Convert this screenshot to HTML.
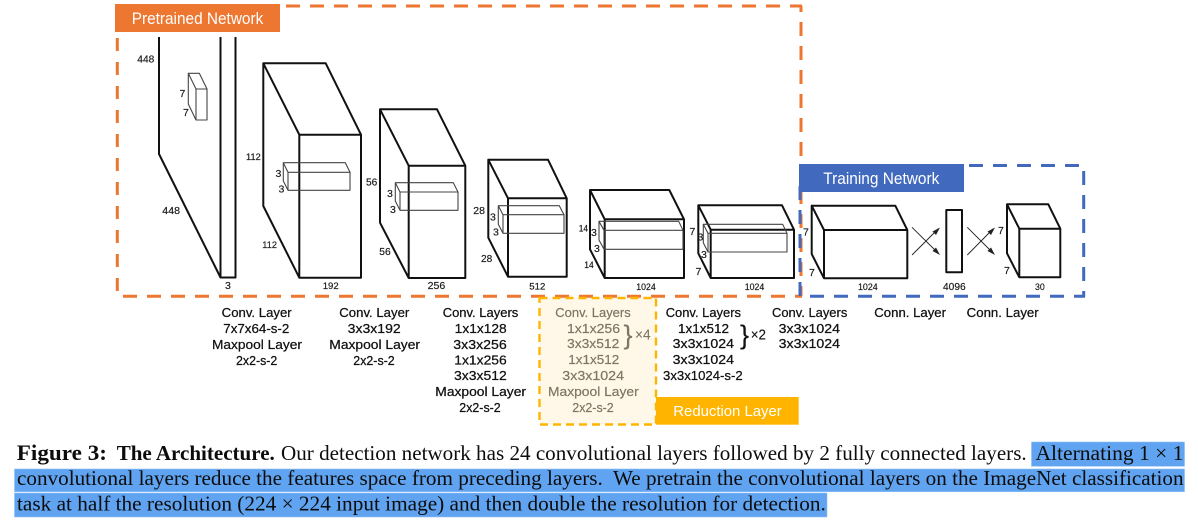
<!DOCTYPE html>
<html><head><meta charset="utf-8"><style>
html,body{margin:0;padding:0;background:#fff;width:1198px;height:524px;overflow:hidden}
svg{display:block;filter:blur(0.3px)}
.b{fill:none;stroke:#111;stroke-width:2;stroke-linejoin:round}
.i{fill:none;stroke:#444;stroke-width:1.1;stroke-linejoin:round}
.d{font:10.5px "Liberation Sans",sans-serif;fill:#1c1c1c;stroke:#1c1c1c;stroke-width:.2}
.s{font-size:9.6px}
.l{font:13px "Liberation Sans",sans-serif;fill:#111;stroke:#111;stroke-width:.25}
.y{font:13px "Liberation Sans",sans-serif;fill:#7d7663;stroke:#7d7663;stroke-width:.2}
.c{font:21.6px "Liberation Serif",serif;fill:#0c0c0c}
.cb{font:bold 21.6px "Liberation Serif",serif;fill:#0c0c0c}
</style></head><body>
<svg width="1198" height="524" viewBox="0 0 1198 524" xmlns="http://www.w3.org/2000/svg">
<rect width="1198" height="524" fill="#fff"/>
<!-- orange frame -->
<g fill="none" stroke="#ED7630" stroke-width="3">
<path d="M286,6H802" stroke-dasharray="14 10"/>
<path d="M117.3,38V292" stroke-dasharray="13 11"/>
<path d="M123,296.3H802" stroke-dasharray="14 10"/>
<path d="M801,6V296" stroke-dasharray="14 10" stroke-dashoffset="8"/>
</g>
<rect x="115" y="4" width="165" height="28" fill="#ED7630"/>
<text x="131.7" y="24" font-family="Liberation Sans" font-size="16.5" fill="#fff" textLength="131.6" lengthAdjust="spacingAndGlyphs">Pretrained Network</text>
<!-- blue frame -->
<g fill="none" stroke="#4169BE" stroke-width="3">
<path d="M969,165.5H1084" stroke-dasharray="14 10"/>
<path d="M1083.7,171V297" stroke-dasharray="14 10"/>
<path d="M810,296.3H1085" stroke-dasharray="14 10"/>
<path d="M800,186V296" stroke-dasharray="14 10"/>
</g>
<rect x="799" y="164" width="165" height="28" fill="#4169BE"/>
<text x="823.3" y="184" font-family="Liberation Sans" font-size="16.5" fill="#fff" textLength="116" lengthAdjust="spacingAndGlyphs">Training Network</text>
<!-- blocks -->
<path class="b" d="M159,37V154L220.5,277.5H235.5V37M220.5,37V277.5"/>
<path class="i" d="M188.3,73.3H199.3L207,89V120H196V89L188.3,73.3V104L196,120M196,89H207"/>
<path class="b" d="M263.3,63.3H325.7L361,134.7V277.7H299.3V134.7H361M299.3,134.7L263.3,63.3V206L299.3,277.7"/>
<path class="i" d="M283.3,162.7H345.3L350,172.3V190.3H288V172.3H350M288,172.3L283.3,162.7V181L288,190.3"/>
<path class="b" d="M380,109.3H437L465.3,165.7V278H408.7V165.7H465.3M408.7,165.7L380,109.3V222.7L408.7,278"/>
<path class="i" d="M395.3,182.7H453.3L458,192V210.3H400V192H458M400,192L395.3,182.7V201L400,210.3"/>
<path class="b" d="M488.3,159.7H548L566.7,198.3V276.7H508V198.3H566.7M508,198.3L488.3,159.7V237.7L508,276.7"/>
<path class="i" d="M498.3,205.7H559.3L564,214.7V233.3H503V214.7H564M503,214.7L498.3,205.7V224.3L503,233.3"/>
<path class="b" d="M590,190H669.3L684,219.3V278H604.7V219.3H684M604.7,219.3L590,190V249.3L604.7,278"/>
<path class="i" d="M599,221.3H678.7L683,230.3V249.3H604V230.3H683M604,230.3L599,221.3V240L604,249.3"/>
<path class="b" d="M698.3,205.3H782L794,229.7V278H710.7V229.7H794M710.7,229.7L698.3,205.3V253.3L710.7,278"/>
<path class="i" d="M703.3,224.3H782.7L787,233.3V252H708V233.3H787M708,233.3L703.3,224.3V242.7L708,252"/>
<path class="b" d="M811.7,205.7H895.3L907.3,230V278.3H824V230H907.3M824,230L811.7,205.7V254L824,278.3"/>
<rect class="b" x="946.3" y="210" width="15.7" height="62.3"/>
<path class="b" d="M1007,204.3H1048.3L1060.3,228.7V277.3H1019.3V228.7H1060.3M1019.3,228.7L1007,204.3V253.3L1019.3,277.3"/>
<!-- arrows -->
<g stroke="#222" stroke-width="0.9" fill="none">
<path d="M912,255L938,229M912,227.3L938,253M967.3,255L993,229M967.3,227.3L993,253"/>
</g>
<g fill="#222">
<polygon points="940,227.5 936,235 932.5,231.5"/>
<polygon points="940,255 932.5,251 936,247.5"/>
<polygon points="995,227.5 991,235 987.5,231.5"/>
<polygon points="995,255 987.5,251 991,247.5"/>
</g>
<!-- dimension labels -->
<g class="d">
<text x="137.3" y="62.5" textLength="17" lengthAdjust="spacingAndGlyphs">448</text>
<text x="179.5" y="97">7</text><text x="183" y="116">7</text>
<text x="162.3" y="214" textLength="17.7" lengthAdjust="spacingAndGlyphs">448</text>
<text x="225" y="289">3</text>
<text class="s" x="246" y="160" textLength="14.7" lengthAdjust="spacingAndGlyphs">112</text>
<text class="s" x="262.3" y="248" textLength="14.7" lengthAdjust="spacingAndGlyphs">112</text>
<text x="275.5" y="177">3</text><text x="278.5" y="192.5">3</text>
<text class="s" x="322.7" y="289" textLength="16" lengthAdjust="spacingAndGlyphs">192</text>
<text x="366" y="185.5" textLength="11.3" lengthAdjust="spacingAndGlyphs">56</text>
<text x="379.3" y="255" textLength="11.4" lengthAdjust="spacingAndGlyphs">56</text>
<text x="387" y="197">3</text><text x="390" y="213">3</text>
<text x="427.7" y="289" textLength="17.6" lengthAdjust="spacingAndGlyphs">256</text>
<text x="473.3" y="214" textLength="11.7" lengthAdjust="spacingAndGlyphs">28</text>
<text x="481" y="262" textLength="11.3" lengthAdjust="spacingAndGlyphs">28</text>
<text x="490" y="220.5">3</text><text x="493" y="235.5">3</text>
<text class="s" x="529.3" y="289.5" textLength="16" lengthAdjust="spacingAndGlyphs">512</text>
<text class="s" x="578.7" y="231.5" textLength="9.3" lengthAdjust="spacingAndGlyphs">14</text>
<text class="s" x="584.3" y="268" textLength="9.4" lengthAdjust="spacingAndGlyphs">14</text>
<text x="591" y="236">3</text><text x="594" y="252">3</text>
<text class="s" x="636.3" y="290" textLength="19.4" lengthAdjust="spacingAndGlyphs">1024</text>
<text x="689.5" y="235">7</text><text x="697.5" y="240.5">3</text>
<text x="701" y="258">3</text><text x="695.5" y="275">7</text>
<text class="s" x="744.7" y="290" textLength="19.6" lengthAdjust="spacingAndGlyphs">1024</text>
<text x="803" y="235.5">7</text><text x="809" y="276">7</text>
<text class="s" x="858" y="290" textLength="19.7" lengthAdjust="spacingAndGlyphs">1024</text>
<text x="943" y="290" textLength="22.7" lengthAdjust="spacingAndGlyphs">4096</text>
<text class="s" x="1035" y="290" textLength="9.7" lengthAdjust="spacingAndGlyphs">30</text>
<text x="998" y="234">7</text><text x="1004" y="274">7</text>
</g>
<!-- column labels -->
<g class="l">
<text x="221.7" y="317" textLength="70" lengthAdjust="spacingAndGlyphs">Conv. Layer</text>
<text x="223.3" y="333" textLength="66" lengthAdjust="spacingAndGlyphs">7x7x64-s-2</text>
<text x="212" y="349" textLength="90" lengthAdjust="spacingAndGlyphs">Maxpool Layer</text>
<text x="236" y="365" textLength="41.3" lengthAdjust="spacingAndGlyphs">2x2-s-2</text>
<text x="339.3" y="317" textLength="70" lengthAdjust="spacingAndGlyphs">Conv. Layer</text>
<text x="347.7" y="333" textLength="53" lengthAdjust="spacingAndGlyphs">3x3x192</text>
<text x="329.3" y="349" textLength="90.7" lengthAdjust="spacingAndGlyphs">Maxpool Layer</text>
<text x="353.3" y="365" textLength="41.4" lengthAdjust="spacingAndGlyphs">2x2-s-2</text>
<text x="442.7" y="317" textLength="75.6" lengthAdjust="spacingAndGlyphs">Conv. Layers</text>
<text x="454.7" y="333" textLength="52" lengthAdjust="spacingAndGlyphs">1x1x128</text>
<text x="453.3" y="349" textLength="53.4" lengthAdjust="spacingAndGlyphs">3x3x256</text>
<text x="454.3" y="364.5" textLength="52.4" lengthAdjust="spacingAndGlyphs">1x1x256</text>
<text x="454" y="380" textLength="52.7" lengthAdjust="spacingAndGlyphs">3x3x512</text>
<text x="435.3" y="396" textLength="90.7" lengthAdjust="spacingAndGlyphs">Maxpool Layer</text>
<text x="459.3" y="412" textLength="41.4" lengthAdjust="spacingAndGlyphs">2x2-s-2</text>
<text x="665.7" y="317" textLength="75.3" lengthAdjust="spacingAndGlyphs">Conv. Layers</text>
<text x="678" y="333" textLength="51" lengthAdjust="spacingAndGlyphs">1x1x512</text>
<text x="672.7" y="348" textLength="61.3" lengthAdjust="spacingAndGlyphs">3x3x1024</text>
<text x="672.7" y="364" textLength="61.3" lengthAdjust="spacingAndGlyphs">3x3x1024</text>
<text x="663" y="380" textLength="79.7" lengthAdjust="spacingAndGlyphs">3x3x1024-s-2</text>
<text x="772" y="317" textLength="75.3" lengthAdjust="spacingAndGlyphs">Conv. Layers</text>
<text x="778.7" y="333" textLength="61.3" lengthAdjust="spacingAndGlyphs">3x3x1024</text>
<text x="778.7" y="348" textLength="61.3" lengthAdjust="spacingAndGlyphs">3x3x1024</text>
<text x="874.3" y="317" textLength="71.7" lengthAdjust="spacingAndGlyphs">Conn. Layer</text>
<text x="966.7" y="317" textLength="72" lengthAdjust="spacingAndGlyphs">Conn. Layer</text>
<text x="740" y="344" style="font-size:27px;stroke-width:.1">}</text>
<text x="750.7" y="339.5" style="font-size:15px;stroke-width:.1" textLength="15.3" lengthAdjust="spacingAndGlyphs">×2</text>
</g>
<!-- reduction box -->
<rect x="539.5" y="298" width="116.5" height="126.5" fill="#FFF8E9" stroke="#FFB500" stroke-width="2.4" stroke-dasharray="8 5"/>
<g class="y">
<text x="555.3" y="317" textLength="75.4" lengthAdjust="spacingAndGlyphs">Conv. Layers</text>
<text x="567" y="333" textLength="53" lengthAdjust="spacingAndGlyphs">1x1x256</text>
<text x="567" y="348" textLength="52.3" lengthAdjust="spacingAndGlyphs">3x3x512</text>
<text x="568.3" y="364" textLength="51" lengthAdjust="spacingAndGlyphs">1x1x512</text>
<text x="562.3" y="380" textLength="61.7" lengthAdjust="spacingAndGlyphs">3x3x1024</text>
<text x="548" y="396" textLength="90.7" lengthAdjust="spacingAndGlyphs">Maxpool Layer</text>
<text x="572.3" y="412" textLength="41.4" lengthAdjust="spacingAndGlyphs">2x2-s-2</text>
<text x="623.5" y="344" style="font-size:27px;stroke-width:.1">}</text>
<text x="635" y="339.5" style="font-size:15px;stroke-width:.1" textLength="15.7" lengthAdjust="spacingAndGlyphs">×4</text>
</g>
<rect x="656" y="397" width="142.7" height="27.7" fill="#FFB500"/>
<text x="673.3" y="416" font-family="Liberation Sans" font-size="15" fill="#fff" textLength="108.4" lengthAdjust="spacingAndGlyphs">Reduction Layer</text>
<!-- caption -->
<g fill="#60A4F1" stroke="#8FC0F6" stroke-width="0.6">
<rect x="1031.5" y="442" width="153" height="24.3"/>
<rect x="14.5" y="469" width="1170" height="22.7"/>
<rect x="14.5" y="493" width="812.5" height="24"/>
</g>
<text class="cb" x="16.8" y="460" style="font-size:22.5px" textLength="90.2" lengthAdjust="spacingAndGlyphs">Figure 3:</text>
<text class="cb" x="116.7" y="460" textLength="158.1" lengthAdjust="spacingAndGlyphs">The Architecture.</text>
<text class="c" x="281" y="460" textLength="745.7" lengthAdjust="spacingAndGlyphs">Our detection network has 24 convolutional layers followed by 2 fully connected layers.</text>
<text class="c" x="1035.5" y="460" textLength="148" lengthAdjust="spacingAndGlyphs">Alternating 1 × 1</text>
<text class="c" x="17" y="485" textLength="1166.6" lengthAdjust="spacingAndGlyphs" xml:space="preserve">convolutional layers reduce the features space from preceding layers.  We pretrain the convolutional layers on the ImageNet classification</text>
<text class="c" x="17" y="510.5" textLength="808.8" lengthAdjust="spacingAndGlyphs">task at half the resolution (224 × 224 input image) and then double the resolution for detection.</text>
</svg>
</body></html>
